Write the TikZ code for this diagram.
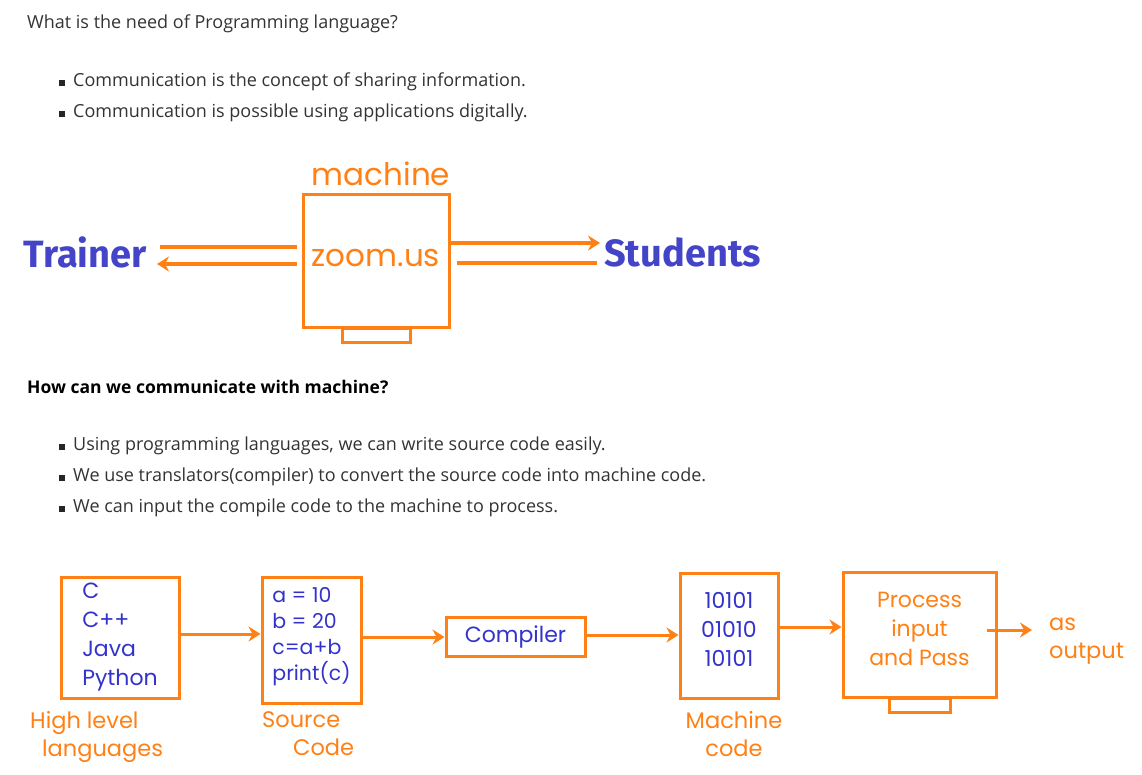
\documentclass[tikz,border=0pt]{standalone}
\usepackage{fontspec}
\setmainfont{Open Sans}
\newfontfamily\gothic{Poppins}
\newfontfamily\namefont{Fira Sans}
\usetikzlibrary{arrows.meta}
\definecolor{orng}{RGB}{255,128,20}
\definecolor{dblue}{RGB}{51,51,204}
\definecolor{pblue}{RGB}{68,68,200}
\definecolor{txt}{RGB}{51,51,51}
\tikzstyle{box}=[draw=orng, line width=3pt, inner sep=0pt]
\tikzstyle{code}=[text=dblue, font=\gothic\fontsize{22}{29}\selectfont, align=left]
\tikzstyle{note}=[text=orng, font=\gothic\fontsize{22.5}{28}\selectfont, inner sep=0pt]
\tikzstyle{person}=[text=pblue, font=\namefont\bfseries\fontsize{38}{40}\selectfont, inner sep=0pt]
\tikzstyle{body}=[text=txt, font=\fontsize{18}{20}\selectfont, anchor=west, inner sep=0pt]
\tikzstyle{bullet}=[fill=black!85, minimum size=6.5pt, inner sep=0pt]
\tikzstyle{flow}=[draw=orng, line width=3pt, -{Stealth[length=12pt,width=15pt,inset=4pt]}]

\begin{document}
\begin{tikzpicture}[x=1pt, y=-1pt]
                \useasboundingbox (0,0) rectangle (1142,775);
                \node[body] (q1) at (27,24) {What is the need of Programming language?};
                \node[bullet] (b1) at (62,83) {};
                \node[body] (t1) at (73,82) {Communication is the concept of sharing information.};
                \node[bullet] (b2) at (62,114) {};
                \node[body] (t2) at (73,113) {Communication is possible using applications digitally.};
                % machine in the middle
                \node[note, font=\gothic\fontsize{31}{34}\selectfont] (mlbl) at (381,174) {machine};
                \node[box, minimum width=146pt, minimum height=132pt, text=orng, text depth=6pt,
                      font=\gothic\fontsize{31}{34}\selectfont] (mbox) at (376,261) {zoom.us};
                \node[box, minimum width=68pt, minimum height=14pt, anchor=north] (mfoot) at ([yshift=1.5pt]mbox.south) {};
                \node[person, anchor=east] (trainer) at (147,252) {Trainer};
                \node[person, anchor=west] (students) at (604,252) {Students};
                \draw[flow, line width=3.6pt, -] ([xshift=-5pt,yshift=14pt]mbox.west) -- ([xshift=13pt,yshift=5pt]trainer.east);
                \draw[flow, line width=3.6pt] ([xshift=-5pt,yshift=-3pt]mbox.west) -- ([xshift=10pt,yshift=-12pt]trainer.east);
                \draw[flow, line width=3.6pt] ([yshift=18pt]mbox.east) -- ([xshift=-4pt,yshift=9pt]students.west);
                \draw[flow, line width=3.6pt, -] ([xshift=6pt,yshift=-2pt]mbox.east) -- ([xshift=-7pt,yshift=-11pt]students.west);
                \node[body, font=\bfseries\fontsize{17.5}{20}\selectfont, text=black] (q2) at (27,387) {How can we communicate with machine?};
                \node[bullet] (b3) at (62,447) {};
                \node[body] (t3) at (73,446) {Using programming languages, we can write source code easily.};
                \node[bullet] (b4) at (62,478) {};
                \node[body] (t4) at (73,477) {We use translators(compiler) to convert the source code into machine code.};
                \node[bullet] (b5) at (62,509) {};
                \node[body] (t5) at (73,508) {We can input the compile code to the machine to process.};
                % compile chain
                \node[box, code, minimum width=118pt, minimum height=121pt] (hll) at (120,637.5) {C\\C++\\Java\\Python};
                \node[box, code, font=\gothic\fontsize{20.5}{26}\selectfont, text depth=12pt,
                      minimum width=99pt, minimum height=126pt] (src) at (311.5,640) {a = 10\\b = 20\\c=a+b\\print(c)};
                \node[box, code, minimum width=139pt, minimum height=39pt] (comp) at (515.5,636.5) {Compiler};
                \node[box, code, align=center, text depth=13pt, minimum width=98pt, minimum height=125pt] (mc) at (729,635.5) {10101\\01010\\10101};
                \node[box, code, text=orng, align=center, text depth=12pt, minimum width=153pt, minimum height=125pt] (proc) at (919.5,634.5) {Process\\input\\and Pass};
                \node[box, minimum width=61pt, minimum height=14pt, anchor=north] (pfoot) at ([yshift=1.5pt]proc.south) {};
                \node[note, anchor=west, align=left] (outlbl) at (1049,641) {as\\output};
                \node[note, anchor=north west, align=left] (hlllbl) at (30,711) {High level\\\hspace*{12pt}languages};
                \node[note, anchor=north west, align=left] (srclbl) at (262,711) {Source\\\hspace*{31pt}Code};
                \node[note, anchor=north, align=center] (mclbl) at (734,711) {Machine\\code};
                \draw[flow] ([yshift=3.5pt]hll.east) -- ([yshift=6pt]src.west);
                \draw[flow] ([yshift=3pt]src.east) -- ([yshift=-0.5pt]comp.west);
                \draw[flow] ([yshift=1.5pt]comp.east) -- ([yshift=0.5pt]mc.west);
                \draw[flow] ([yshift=8.5pt]mc.east) -- ([yshift=7.5pt]proc.west);
                \draw[flow] ([xshift=-11pt,yshift=4.5pt]proc.east) -- ([xshift=-17pt,yshift=11pt]outlbl.west);
            \end{tikzpicture}
\end{document}
